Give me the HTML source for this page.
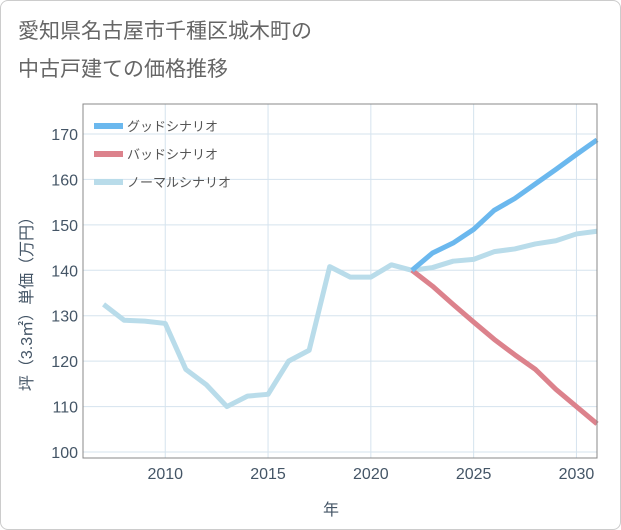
<!DOCTYPE html>
<html><head><meta charset="utf-8"><style>
body{margin:0;background:#fff;font-family:"Liberation Sans","Noto Sans CJK JP",sans-serif;}
#c{position:absolute;left:0;top:0;width:619px;height:528px;border:1px solid #ccc;border-radius:8px;}
</style></head><body>
<div id="c"></div>
<svg id="s" width="621" height="530" style="position:absolute;left:0;top:0">
<text x="18" y="38" font-size="21" fill="#666">愛知県名古屋市千種区城木町の</text>
<text x="18" y="76" font-size="21" fill="#666">中古戸建ての価格推移</text>
<g id="grid"></g><g id="lines"></g>
<rect x="83" y="104" width="514" height="354" fill="none" stroke="#888" stroke-width="1"/>
<text x="331" y="515" font-size="16" fill="#456" text-anchor="middle">年</text>
<text transform="translate(32,300) rotate(-90)" font-size="16" fill="#456" text-anchor="middle">坪（3.3㎡）単価（万円）</text>
<g id="legend"></g>
</svg>
<script>
const years=[2007,2008,2009,2010,2011,2012,2013,2014,2015,2016,2017,2018,2019,2020,2021,2022,2023,2024,2025,2026,2027,2028,2029,2030,2031];
const normal=[132.5,129,128.8,128.3,118.2,114.8,110,112.3,112.7,120,122.4,140.8,138.5,138.5,141.2,140,140.6,142,142.4,144.1,144.7,145.8,146.5,148,148.6];
const futureYears=[2022,2023,2024,2025,2026,2027,2028,2029,2030,2031];
const good=[140,143.8,146,149,153.2,155.8,159,162.2,165.5,168.7];
const bad=[140,136.5,132.5,128.6,124.8,121.4,118.2,113.8,110,106.2];
const xTicks=[2010,2015,2020,2025,2030];
const yTicks=[100,110,120,130,140,150,160,170];
const NS="http://www.w3.org/2000/svg";
const X=v=>83+(v-2006)*20.56, Y=v=>452-(v-100)*4.543;
function mk(t,a,p){const e=document.createElementNS(NS,t);for(const k in a)e.setAttribute(k,a[k]);p.appendChild(e);return e;}
const g=document.getElementById('grid');
xTicks.forEach(v=>{
const l=mk('line',{x1:X(v),x2:X(v),y1:104,y2:458,stroke:'#d5e3ee'},g);


const t=mk('text',{x:X(v),y:479,'font-size':16,fill:'#456','text-anchor':'middle'},g);t.textContent=v;


});
yTicks.forEach(v=>{
const l=mk('line',{x1:83,x2:597,y1:Y(v),y2:Y(v),stroke:'#d5e3ee'},g);


const t=mk('text',{x:78,y:Y(v)+6,'font-size':16,fill:'#456','text-anchor':'end'},g);t.textContent=v;


});
const L=document.getElementById('lines');
function line(xs,ys,c,name){
const p=mk('polyline',{points:xs.map((x,i)=>X(x)+','+Y(ys[i])).join(' '),fill:'none',stroke:c,'stroke-width':5,'stroke-linejoin':'round'},L);


}
line(years,normal,'#b9dcea','normal-scenario-line');
line(futureYears,bad,'#dc828c','bad-scenario-line');
line(futureYears,good,'#6bb8ee','good-scenario-line');
const lg=document.getElementById('legend');
[['グッドシナリオ','#6bb8ee'],['バッドシナリオ','#dc828c'],['ノーマルシナリオ','#b9dcea']].forEach((d,i)=>{
const y=126+i*28;
const l=mk('line',{x1:94,x2:123,y1:y,y2:y,stroke:d[1],'stroke-width':6},lg);


const t=mk('text',{x:127,y:y+5,'font-size':13,fill:'#555'},lg);t.textContent=d[0];


});
</script>
</body></html>
